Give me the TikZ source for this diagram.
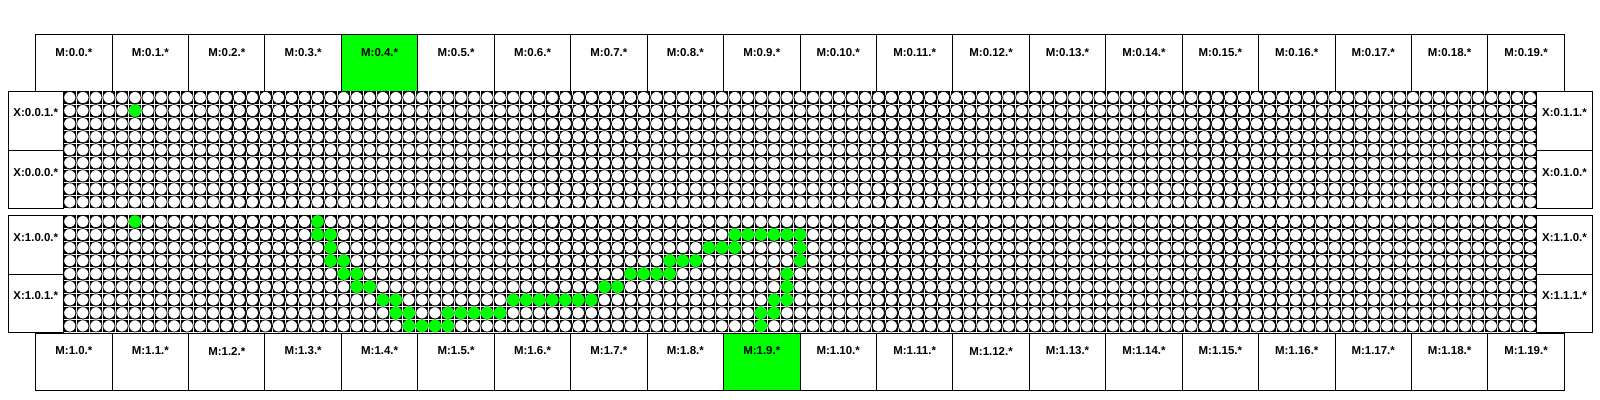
\documentclass[tikz,border=0pt]{standalone}
\usepackage{fontspec}
\setsansfont{Liberation Sans}
\definecolor{hotgreen}{RGB}{0,255,0}
\begin{document}
\begin{tikzpicture}[x=0.75pt,y=-0.75pt,
  boxst/.style={draw=black, line width=0.75pt},
  lab/.style={font=\sffamily\bfseries\fontsize{8.6}{10}\selectfont, inner sep=0pt},
  gridbg/.style={fill=black},
  gridl/.style={draw=white, line width=0.45pt},
  cellc/.style={fill=white, draw=black, line width=0.5pt},
  hot/.style={fill=hotgreen}]
\useasboundingbox (0,0) rectangle (1600,400);
% green M boxes
\fill[hotgreen] (341.42,34.5) rectangle ++(76.43,56.5);
\fill[hotgreen] (723.57,333) rectangle ++(76.43,57);
% M boxes
\foreach \i in {0,...,19}{
  \pgfmathsetmacro{\xl}{35.7+\i*76.43}
  \draw[boxst] (\xl,34.5) rectangle ++(76.43,56.5);
  \node[lab] (mt\i) at (\xl+38.2,52.5) {M:0.\i.*};
  \draw[boxst] (\xl,333) rectangle ++(76.43,57);
  \node[lab] (mb\i) at (\xl+38.2,351) {M:1.\i.*};
}
% grids
\foreach \T in {91,215}{
  \fill[gridbg] (63.3,\T) rectangle ++(1473.4,117.45);
  \foreach \k in {1,...,112} \draw[gridl] (63.3+\k*13.04,\T) -- ++(0,117.45);
  \foreach \r in {1,...,8} \draw[gridl] (63.3,\T+\r*13.05) -- ++(1473.4,0);
  \foreach \r in {0,...,8}{
    \foreach \c in {0,...,112}{
      \draw[cellc] (69.82+\c*13.04,\T+6.525+\r*13.05) circle (6.05);
    }
  }
}
% active upper
\fill[hot] (69.82+5*13.04,91+6.525+1*13.05) circle (6.3);
% active lower
\foreach \c/\r in {5/0,19/0,19/1,20/1,20/2,20/3,21/3,21/4,22/4,22/5,23/5,24/6,25/6,25/7,26/7,26/8,27/8,28/8,29/8,29/7,30/7,31/7,32/7,33/7,34/6,35/6,36/6,37/6,38/6,39/6,40/6,41/5,42/5,43/4,44/4,45/4,46/4,46/3,47/3,48/3,49/2,50/2,51/2,51/1,52/1,53/1,54/1,55/1,56/1,56/2,56/3,55/4,55/5,54/6,55/6,53/7,54/7,53/8}{
  \fill[hot] (69.82+\c*13.04,215+6.525+\r*13.05) circle (6.3);
}
% X boxes
\draw[boxst] (8.3,91) rectangle (63.3,150.5);
\draw[boxst] (8.3,150.5) rectangle (63.3,208.45);
\draw[boxst] (1536.7,91) rectangle (1592.3,150.5);
\draw[boxst] (1536.7,150.5) rectangle (1592.3,208.45);
\draw[boxst] (8.3,215) rectangle (63.3,274.3);
\draw[boxst] (8.3,274.3) rectangle (63.3,332.45);
\draw[boxst] (1536.7,215) rectangle (1592.3,274.3);
\draw[boxst] (1536.7,274.3) rectangle (1592.3,332.45);
\node[lab] (x001) at (35.8,113) {X:0.0.1.*};
\node[lab] (x000) at (35.8,172.5) {X:0.0.0.*};
\node[lab] (x011) at (1564.5,113) {X:0.1.1.*};
\node[lab] (x010) at (1564.5,172.5) {X:0.1.0.*};
\node[lab] (x100) at (35.8,237.5) {X:1.0.0.*};
\node[lab] (x101) at (35.8,296) {X:1.0.1.*};
\node[lab] (x110) at (1564.5,237.5) {X:1.1.0.*};
\node[lab] (x111) at (1564.5,296) {X:1.1.1.*};
\end{tikzpicture}
\end{document}
